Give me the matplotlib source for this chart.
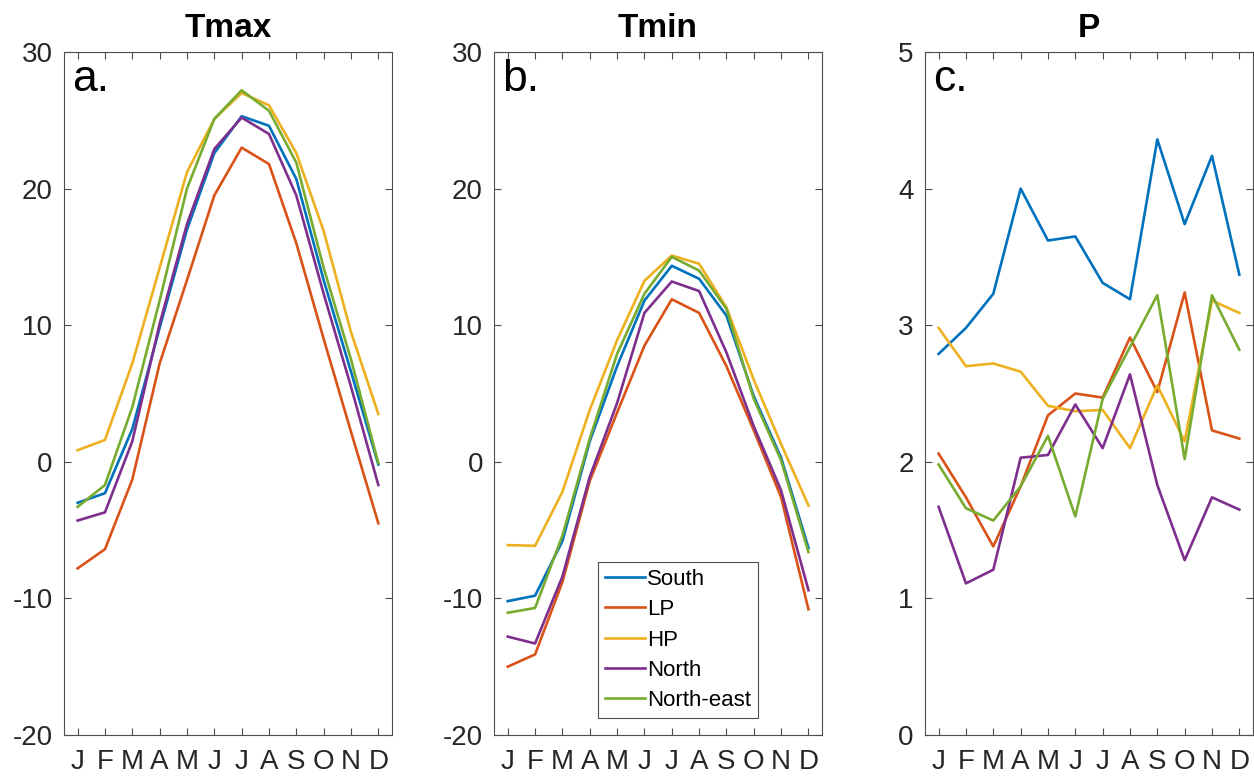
import numpy as np
import matplotlib
matplotlib.use('Agg')
import matplotlib.pyplot as plt

plt.rcParams['font.family'] = ['Liberation Sans', 'DejaVu Sans']
plt.rcParams['axes.unicode_minus'] = False

months = ['J', 'F', 'M', 'A', 'M', 'J', 'J', 'A', 'S', 'O', 'N', 'D']
regions = ['South', 'LP', 'HP', 'North', 'North-east']
colors = ['#0072BD', '#D95319', '#EDB120', '#7E2F8E', '#77AC30']

# monthly means per region
tmax_south = [-3.0, -2.3, 2.4, 9.8, 17.0, 22.6, 25.3, 24.6, 20.7, 13.3, 6.6, -0.2]
tmax_lp = [-7.8, -6.4, -1.3, 7.2, 13.3, 19.5, 23.0, 21.8, 16.0, 9.0, 2.2, -4.5]
tmax_hp = [0.85, 1.6, 7.2, 14.2, 21.2, 25.1, 27.0, 26.1, 22.6, 16.9, 9.5, 3.5]
tmax_north = [-4.3, -3.7, 1.5, 10.1, 17.4, 22.9, 25.2, 24.0, 19.5, 12.3, 5.5, -1.7]
tmax_ne = [-3.3, -1.7, 4.0, 11.8, 20.0, 25.1, 27.2, 25.7, 21.9, 14.2, 7.5, -0.1]

tmin_south = [-10.2, -9.8, -5.8, 1.5, 7.0, 11.8, 14.35, 13.4, 10.7, 4.8, 0.3, -6.3]
tmin_lp = [-15.0, -14.1, -8.8, -1.4, 3.6, 8.5, 11.9, 10.9, 7.0, 2.3, -2.6, -10.8]
tmin_hp = [-6.1, -6.15, -2.2, 3.8, 8.9, 13.25, 15.1, 14.5, 11.3, 6.0, 1.3, -3.2]
tmin_north = [-12.8, -13.3, -8.4, -1.1, 4.3, 10.9, 13.2, 12.5, 8.0, 2.6, -2.1, -9.4]
tmin_ne = [-11.05, -10.7, -5.4, 1.7, 7.9, 12.3, 15.0, 14.0, 11.2, 4.6, 0.1, -6.6]

p_south = [2.79, 2.98, 3.23, 4.0, 3.62, 3.65, 3.31, 3.19, 4.36, 3.74, 4.24, 3.37]
p_lp = [2.06, 1.74, 1.38, 1.82, 2.34, 2.50, 2.47, 2.91, 2.51, 3.24, 2.23, 2.17]
p_hp = [2.98, 2.70, 2.72, 2.66, 2.41, 2.37, 2.38, 2.10, 2.56, 2.15, 3.18, 3.09]
p_north = [1.67, 1.11, 1.21, 2.03, 2.05, 2.42, 2.10, 2.64, 1.83, 1.28, 1.74, 1.65]
p_ne = [1.98, 1.66, 1.57, 1.82, 2.19, 1.60, 2.46, 2.84, 3.22, 2.02, 3.22, 2.82]

panels = [
    ('Tmax', 'a.', [tmax_south, tmax_lp, tmax_hp, tmax_north, tmax_ne], (-20, 30), np.arange(-20, 31, 10)),
    ('Tmin', 'b.', [tmin_south, tmin_lp, tmin_hp, tmin_north, tmin_ne], (-20, 30), np.arange(-20, 31, 10)),
    ('P', 'c.', [p_south, p_lp, p_hp, p_north, p_ne], (0, 5), np.arange(0, 6, 1)),
]

fig = plt.figure(figsize=(12.54, 7.81), dpi=100)
lefts = [0.051, 0.394, 0.7376]
x = np.arange(1, 13)

for i, (title, tag, series, ylim, yticks) in enumerate(panels):
    ax = fig.add_axes([lefts[i], 0.0589, 0.2616, 0.8745])
    for name, vals, c in zip(regions, series, colors):
        ax.plot(x, vals, color=c, lw=1.9, label=name)
    ax.set_xlim(0.5, 12.5)
    ax.set_ylim(*ylim)
    ax.set_xticks(x)
    ax.set_xticklabels(months)
    ax.set_yticks(yticks)
    ax.tick_params(direction='in', top=True, right=True, length=5, width=0.8,
                   labelsize=20, colors='0.15', color='0.3')
    ax.tick_params(axis='y', pad=8)
    ax.tick_params(axis='x', pad=10)
    for s in ax.spines.values():
        s.set_color('0.3')
        s.set_linewidth(0.8)
    ax.set_title(title, fontsize=24, fontweight='bold', pad=11)
    ax.text(0.025, 0.99, tag, transform=ax.transAxes, fontsize=32,
            va='top', ha='left')
    if i == 1:
        leg = ax.legend(loc='lower left', bbox_to_anchor=(0.317, 0.025),
                        fontsize=16, handlelength=1.8, handletextpad=0.1,
                        borderpad=0.3, labelspacing=0.42, fancybox=False,
                        framealpha=1, edgecolor='0.3', borderaxespad=0)
        leg.get_frame().set_linewidth(0.8)

fig.savefig('out.png', dpi=100)
